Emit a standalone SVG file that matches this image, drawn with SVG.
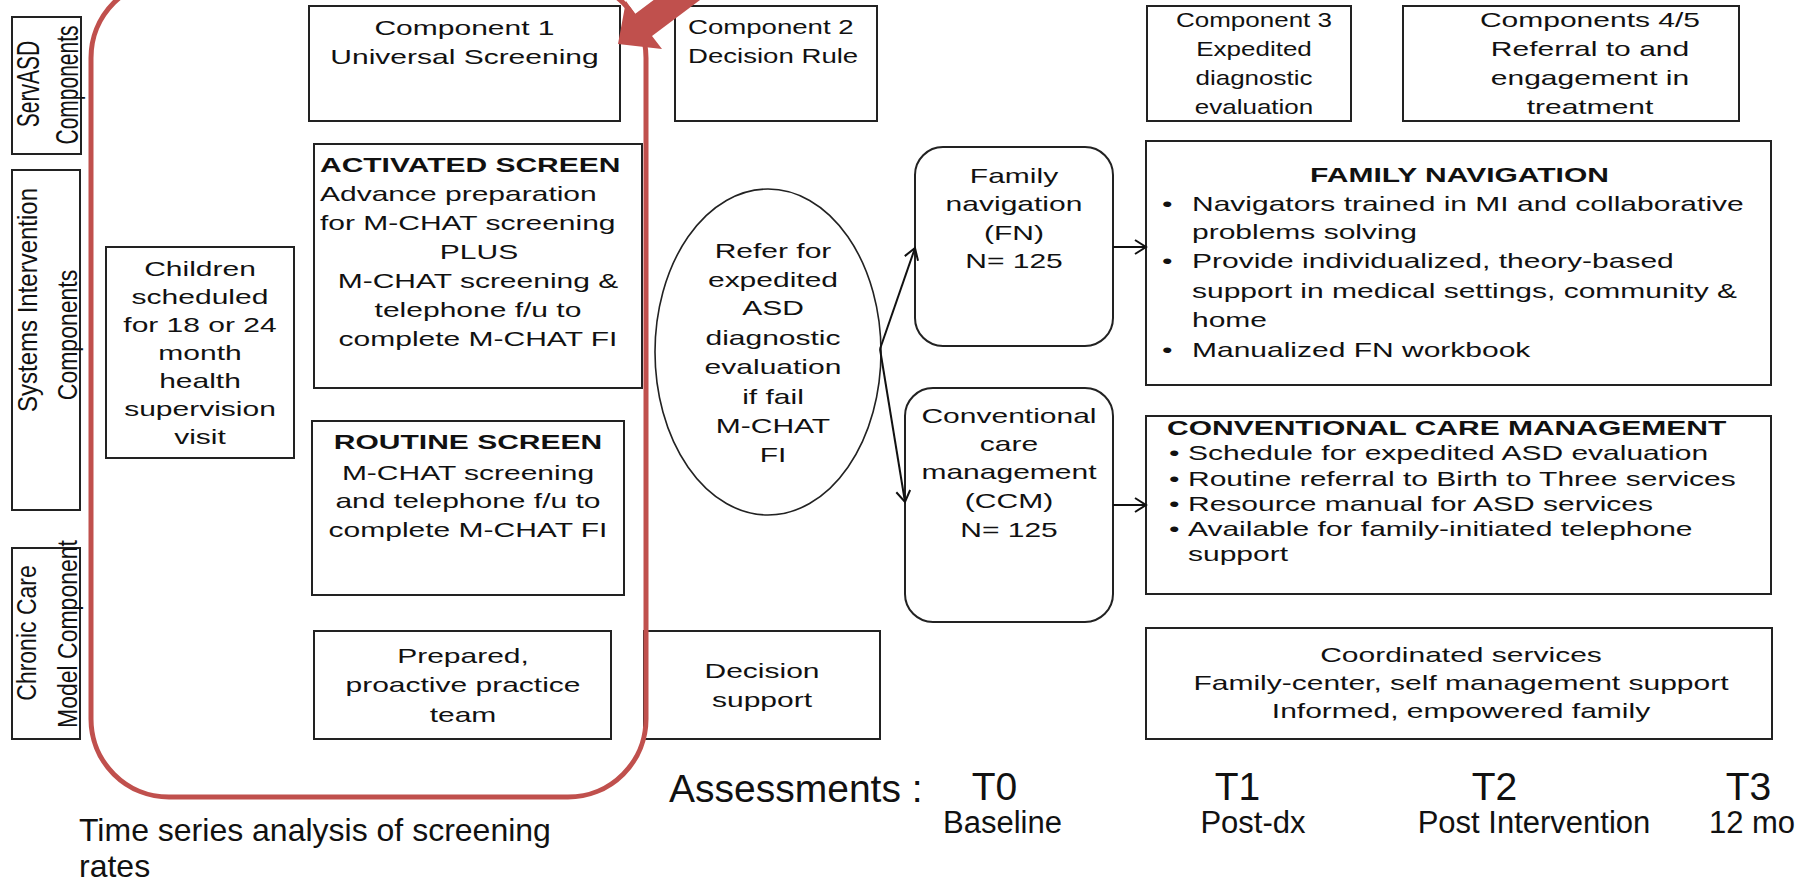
<svg xmlns="http://www.w3.org/2000/svg" width="1808" height="882" viewBox="0 0 1808 882">
<defs>
<style>
text{font-family:"Liberation Sans",Arial,sans-serif;fill:#111}
.t{font-size:20px}
.b{font-size:20px;font-weight:bold}
.c{text-anchor:middle}
.box{fill:#fff;stroke:#222;stroke-width:2}
.lbl{font-size:23px;text-anchor:middle}
.big{font-size:39px}
.mid{font-size:31px;text-anchor:middle}
.conn{fill:none;stroke:#111;stroke-width:2}
</style>
<marker id="ah" markerUnits="userSpaceOnUse" markerWidth="16" markerHeight="16" refX="13" refY="8" orient="auto">
<path d="M2,1 L13,8 L2,15" fill="none" stroke="#111" stroke-width="2"/>
</marker>
</defs>
<rect width="1808" height="882" fill="#fff"/>

<g id="label-servasd">
<rect class="box" x="12" y="17" width="69" height="137"/>
<text class="lbl" style="font-size:21px" transform="translate(39,84) scale(1.45,1) rotate(-90)">ServASD</text>
<text class="lbl" style="font-size:21px" transform="translate(78,85) scale(1.45,1) rotate(-90)">Components</text>
</g>
<g id="label-systems">
<rect class="box" x="12" y="170" width="68" height="340"/>
<text class="lbl" style="font-size:24px" transform="translate(37,300) scale(1.15,1) rotate(-90)">Systems Intervention</text>
<text class="lbl" transform="translate(77,335) scale(1.2,1) rotate(-90)">Components</text>
</g>
<g id="label-chronic">
<rect class="box" x="12" y="548" width="68" height="191"/>
<text class="lbl" transform="translate(36,633) scale(1.2,1) rotate(-90)">Chronic Care</text>
<text class="lbl" transform="translate(77,634) scale(1.2,1) rotate(-90)">Model Component</text>
</g>

<g id="comp1"><rect class="box" x="309" y="6" width="311" height="115"/></g>
<g id="comp2">
<rect class="box" x="675" y="6" width="202" height="115"/>
<g transform="scale(1.38,1)">
<text class="t" x="498.55" y="34">Component 2</text>
<text class="t" x="498.55" y="63">Decision Rule</text>
</g>
</g>
<g id="comp3">
<rect class="box" x="1147" y="6" width="204" height="115"/>
<g transform="scale(1.3,1)">
<text class="t c" x="964.62" y="27">Component 3</text>
<text class="t c" x="964.62" y="56">Expedited</text>
<text class="t c" x="964.62" y="85">diagnostic</text>
<text class="t c" x="964.62" y="114">evaluation</text>
</g>
</g>
<g id="comp45"><rect class="box" x="1403" y="6" width="336" height="115"/></g>
<g id="children"><rect class="box" x="106" y="247" width="188" height="211"/></g>
<g id="activated"><rect class="box" x="314" y="144" width="328" height="244"/></g>
<g id="routine"><rect class="box" x="312" y="421" width="312" height="174"/></g>
<g id="refer"><ellipse cx="768" cy="352" rx="113" ry="163" fill="#fff" stroke="#222" stroke-width="1.6"/></g>
<g id="fn"><rect class="box" x="915" y="147" width="198" height="199" rx="28"/></g>
<g id="ccm"><rect class="box" x="905" y="388" width="208" height="234" rx="28"/></g>
<g id="famnav"><rect class="box" x="1146" y="141" width="625" height="244"/></g>
<g id="ccmbox"><rect class="box" x="1146" y="416" width="625" height="178"/></g>
<g id="prepared"><rect class="box" x="314" y="631" width="297" height="108"/></g>
<g id="decision"><rect class="box" x="644" y="631" width="236" height="108"/></g>
<g id="coordinated"><rect class="box" x="1146" y="628" width="626" height="111"/></g>

<g id="connectors">
<line class="conn" x1="880" y1="349" x2="915" y2="248" marker-end="url(#ah)"/>
<line class="conn" x1="880" y1="349" x2="905" y2="502" marker-end="url(#ah)"/>
<line class="conn" x1="1113" y1="247" x2="1146" y2="247" marker-end="url(#ah)"/>
<line class="conn" x1="1113" y1="505" x2="1146" y2="505" marker-end="url(#ah)"/>
</g>

<g id="stretched-text" transform="scale(1.5,1)">
<text class="t c" x="309.67" y="35">Component 1</text>
<text class="t c" x="309.67" y="64">Universal Screening</text>
<text class="t c" x="1060" y="27">Components 4/5</text>
<text class="t c" x="1060" y="56">Referral to and</text>
<text class="t c" x="1060" y="85">engagement in</text>
<text class="t c" x="1060" y="114">treatment</text>

<text class="b" x="213.33" y="172">ACTIVATED SCREEN</text>
<text class="t" x="213.33" y="201">Advance preparation</text>
<text class="t" x="213.33" y="230">for M-CHAT screening</text>
<text class="t c" x="319.33" y="259">PLUS</text>
<text class="t c" x="318.67" y="288">M-CHAT screening &amp;</text>
<text class="t c" x="318.67" y="317">telephone f/u to</text>
<text class="t c" x="318.67" y="346">complete M-CHAT FI</text>

<text class="t c" x="133.33" y="276">Children</text>
<text class="t c" x="133.33" y="304">scheduled</text>
<text class="t c" x="133.33" y="332">for 18 or 24</text>
<text class="t c" x="133.33" y="360">month</text>
<text class="t c" x="133.33" y="388">health</text>
<text class="t c" x="133.33" y="416">supervision</text>
<text class="t c" x="133.33" y="444">visit</text>

<text class="b c" x="312" y="449">ROUTINE SCREEN</text>
<text class="t c" x="312" y="480">M-CHAT screening</text>
<text class="t c" x="312" y="508">and telephone f/u to</text>
<text class="t c" x="312" y="537">complete M-CHAT FI</text>

<text class="t c" x="515.33" y="258">Refer for</text>
<text class="t c" x="515.33" y="287">expedited</text>
<text class="t c" x="515.33" y="315">ASD</text>
<text class="t c" x="515.33" y="345">diagnostic</text>
<text class="t c" x="515.33" y="374">evaluation</text>
<text class="t c" x="515.33" y="404">if fail</text>
<text class="t c" x="515.33" y="433">M-CHAT</text>
<text class="t c" x="515.33" y="462">FI</text>

<text class="t c" x="676" y="183">Family</text>
<text class="t c" x="676" y="211">navigation</text>
<text class="t c" x="676" y="240">(FN)</text>
<text class="t c" x="676" y="268">N= 125</text>

<text class="t c" x="672.67" y="423">Conventional</text>
<text class="t c" x="672.67" y="451">care</text>
<text class="t c" x="672.67" y="479">management</text>
<text class="t c" x="672.67" y="508">(CCM)</text>
<text class="t c" x="672.67" y="537">N= 125</text>

<text class="b c" x="973" y="182">FAMILY NAVIGATION</text>
<text class="t" x="774.67" y="211">•</text>
<text class="t" x="794.67" y="211">Navigators trained in MI and collaborative</text>
<text class="t" x="794.67" y="239">problems solving</text>
<text class="t" x="774.67" y="268">•</text>
<text class="t" x="794.67" y="268">Provide individualized, theory-based</text>
<text class="t" x="794.67" y="298">support in medical settings, community &amp;</text>
<text class="t" x="794.67" y="327">home</text>
<text class="t" x="774.67" y="357">•</text>
<text class="t" x="794.67" y="357">Manualized FN workbook</text>

<text class="b" x="778" y="435">CONVENTIONAL CARE MANAGEMENT</text>
<text class="t" x="779.33" y="460">•</text>
<text class="t" x="792" y="460">Schedule for expedited ASD evaluation</text>
<text class="t" x="779.33" y="486">•</text>
<text class="t" x="792" y="486">Routine referral to Birth to Three services</text>
<text class="t" x="779.33" y="511">•</text>
<text class="t" x="792" y="511">Resource manual for ASD services</text>
<text class="t" x="779.33" y="536">•</text>
<text class="t" x="792" y="536">Available for family-initiated telephone</text>
<text class="t" x="792" y="561">support</text>

<text class="t c" x="308.67" y="663">Prepared,</text>
<text class="t c" x="308.67" y="692">proactive practice</text>
<text class="t c" x="308.67" y="722">team</text>

<text class="t c" x="508" y="678">Decision</text>
<text class="t c" x="508" y="707">support</text>

<text class="t c" x="974" y="662">Coordinated services</text>
<text class="t c" x="974" y="690">Family-center, self management support</text>
<text class="t c" x="974" y="718">Informed, empowered family</text>
</g>

<g id="focus-outline">
<rect x="91" y="-20" width="555" height="817" rx="78" fill="none" stroke="#C0504D" stroke-width="5"/>
<polygon points="618,44 662,49 652,36 748,-36 731,-58 635,14 626,1" fill="#C0504D"/>
</g>

<g id="assessments">
<text class="big" x="669" y="802">Assessments :</text>
<text class="big" x="994.5" y="800" text-anchor="middle">T0</text>
<text class="big" x="1237.5" y="800" text-anchor="middle">T1</text>
<text class="big" x="1494.5" y="800" text-anchor="middle">T2</text>
<text class="big" x="1748.5" y="800" text-anchor="middle">T3</text>
<text class="mid" x="1002.5" y="833">Baseline</text>
<text class="mid" x="1253" y="833">Post-dx</text>
<text class="mid" x="1534" y="833">Post Intervention</text>
<text class="mid" x="1752" y="833">12 mo</text>
</g>
<g id="note">
<text x="79" y="841" style="font-size:32px">Time series analysis of screening</text>
<text x="79" y="877" style="font-size:32px">rates</text>
</g>
</svg>
